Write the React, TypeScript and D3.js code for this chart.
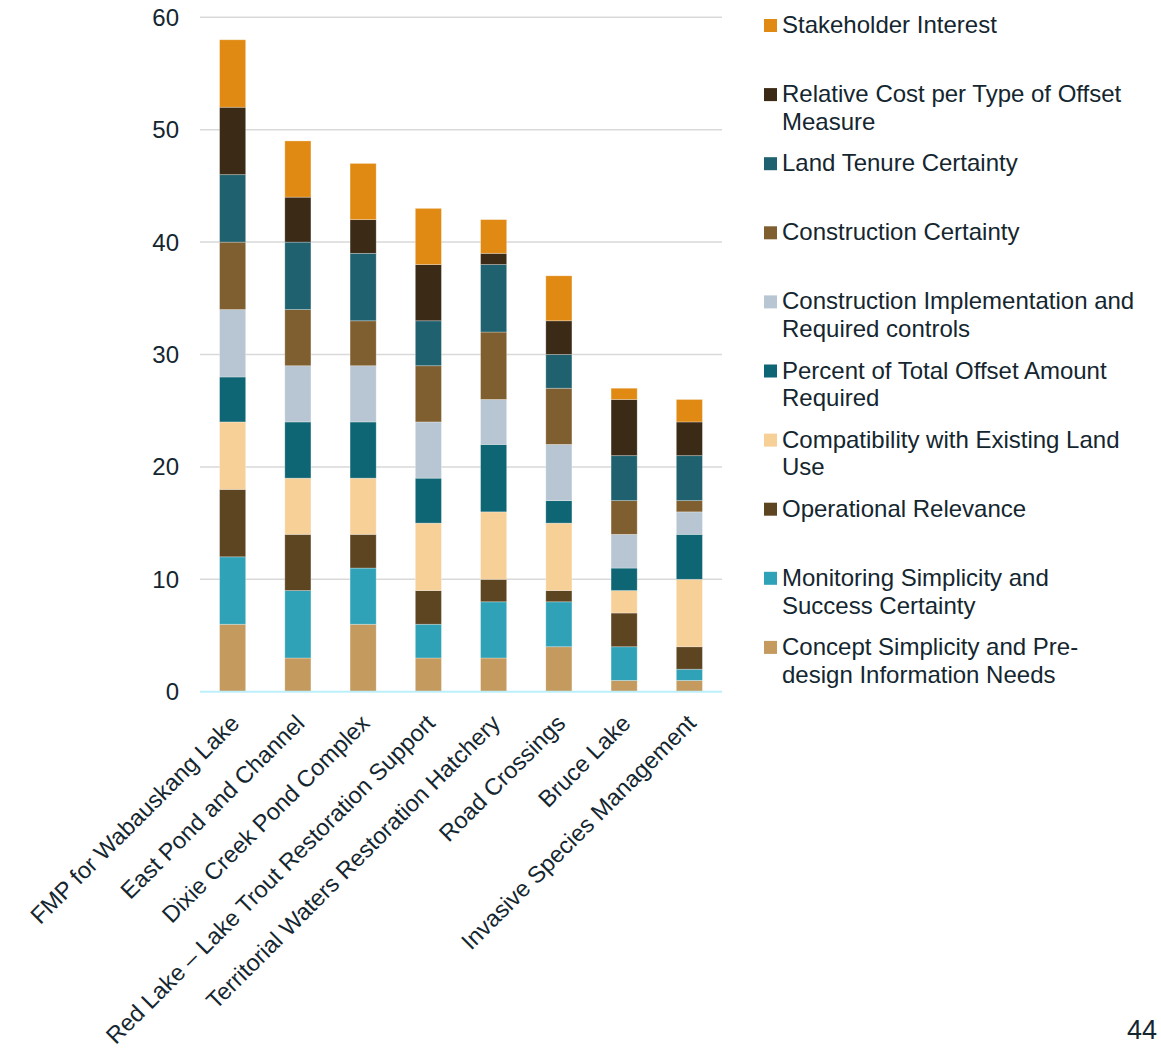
import React, { useEffect, useRef } from 'react';
import * as d3 from 'd3';

const projects = [
  'FMP for Wabauskang Lake',
  'East Pond and Channel',
  'Dixie Creek Pond Complex',
  'Red Lake – Lake Trout Restoration Support',
  'Territorial Waters Restoration Hatchery',
  'Road Crossings',
  'Bruce Lake',
  'Invasive Species Management',
];

// stack order, bottom to top
const criteria = [
  'Concept Simplicity and Pre-design Information Needs',
  'Monitoring Simplicity and Success Certainty',
  'Operational Relevance',
  'Compatibility with Existing Land Use',
  'Percent of Total Offset Amount Required',
  'Construction Implementation and Required controls',
  'Construction Certainty',
  'Land Tenure Certainty',
  'Relative Cost per Type of Offset Measure',
  'Stakeholder Interest',
];

// legend lines as they wrap in the original
const legendLines = [
  ['Concept Simplicity and Pre-', 'design Information Needs'],
  ['Monitoring Simplicity and', 'Success Certainty'],
  ['Operational Relevance'],
  ['Compatibility with Existing Land', 'Use'],
  ['Percent of Total Offset Amount', 'Required'],
  ['Construction Implementation and', 'Required controls'],
  ['Construction Certainty'],
  ['Land Tenure Certainty'],
  ['Relative Cost per Type of Offset', 'Measure'],
  ['Stakeholder Interest'],
];

const colors = [
  '#C49A5E',
  '#30A2B7',
  '#5D4522',
  '#F7D098',
  '#0E6574',
  '#B7C6D2',
  '#7F5E2F',
  '#1F616E',
  '#3A2A16',
  '#E08A13',
];

// one row per criterion, one value per project
const concept = [6, 3, 6, 3, 3, 4, 1, 1];
const monitoring = [6, 6, 5, 3, 5, 4, 3, 1];
const operational = [6, 5, 3, 3, 2, 1, 3, 2];
const compatibility = [6, 5, 5, 6, 6, 6, 2, 6];
const percentOffset = [4, 5, 5, 4, 6, 2, 2, 4];
const constructionImpl = [6, 5, 5, 5, 4, 5, 3, 2];
const constructionCert = [6, 5, 4, 5, 6, 5, 3, 1];
const landTenure = [6, 6, 6, 4, 6, 3, 4, 4];
const relativeCost = [6, 4, 3, 5, 1, 3, 5, 3];
const stakeholder = [6, 5, 5, 5, 3, 4, 1, 2];

const seriesValues = [
  concept,
  monitoring,
  operational,
  compatibility,
  percentOffset,
  constructionImpl,
  constructionCert,
  landTenure,
  relativeCost,
  stakeholder,
];

const yTicks = [0, 10, 20, 30, 40, 50, 60];

const W = 1161;
const H = 1052;
const textColor = '#14262F';
const font = 'Arial, "Liberation Sans", sans-serif';

export default function App() {
  const svgRef = useRef<SVGSVGElement | null>(null);

  useEffect(() => {
    if (!svgRef.current) return;
    const svg = d3.select(svgRef.current);
    svg.selectAll('*').remove();

    const margin = { top: 17.3, left: 200, right: 722, bottom: 691.7 };

    const x = d3.scaleBand<string>().domain(projects).range([margin.left, margin.right]).paddingInner(0.6).paddingOuter(0.3);
    const y = d3.scaleLinear().domain([0, 60]).range([margin.bottom, margin.top]);

    const table = projects.map((p, i) => {
      const row: any = { project: p };
      criteria.forEach((c, k) => (row[c] = seriesValues[k][i]));
      return row;
    });
    const stacked = d3.stack<any>().keys(criteria)(table);

    // grid
    svg
      .append('g')
      .selectAll('line')
      .data(yTicks.filter((t) => t > 0))
      .enter()
      .append('line')
      .attr('x1', margin.left)
      .attr('x2', margin.right)
      .attr('y1', (d) => y(d))
      .attr('y2', (d) => y(d))
      .attr('stroke', '#D9D9D9')
      .attr('stroke-width', 1.5);

    // y tick labels
    svg
      .append('g')
      .selectAll('text')
      .data(yTicks)
      .enter()
      .append('text')
      .attr('x', 179)
      .attr('y', (d) => y(d))
      .attr('dy', '0.35em')
      .attr('text-anchor', 'end')
      .attr('font-family', font)
      .attr('font-size', 24)
      .attr('fill', textColor)
      .text((d) => d);

    // bars
    stacked.forEach((layer, k) => {
      svg
        .append('g')
        .selectAll('rect')
        .data(layer)
        .enter()
        .append('rect')
        .attr('x', (d) => x(d.data.project)!)
        .attr('width', x.bandwidth())
        .attr('y', (d) => y(d[1]))
        .attr('height', (d) => y(d[0]) - y(d[1]))
        .attr('fill', colors[k])
        .attr('stroke', '#ffffff')
        .attr('stroke-opacity', 0.35)
        .attr('stroke-width', 0.8);
    });

    // baseline
    svg
      .append('line')
      .attr('x1', margin.left)
      .attr('x2', margin.right)
      .attr('y1', y(0))
      .attr('y2', y(0))
      .attr('stroke', '#BDEFFB')
      .attr('stroke-width', 2);

    // x labels
    svg
      .append('g')
      .selectAll('text')
      .data(projects)
      .enter()
      .append('text')
      .attr('transform', (d) => `translate(${x(d)! + x.bandwidth() / 2 + 8}, ${y(0) + 33}) rotate(-45)`)
      .attr('text-anchor', 'end')
      .attr('font-family', font)
      .attr('font-size', 23.5)
      .attr('fill', textColor)
      .text((d) => d);

    // legend, top entry is the last stack layer
    const legend = svg.append('g');
    const order = d3.range(criteria.length).reverse();
    order.forEach((k, i) => {
      const cy = 25.5 + i * 69.1;
      legend
        .append('rect')
        .attr('x', 764)
        .attr('y', cy - 6.5)
        .attr('width', 13)
        .attr('height', 13)
        .attr('fill', colors[k]);
      const t = legend
        .append('text')
        .attr('font-family', font)
        .attr('font-size', 24)
        .attr('fill', textColor);
      legendLines[k].forEach((line, j) => {
        t.append('tspan')
          .attr('x', 782)
          .attr('y', cy + 7.5 + j * 27.8)
          .text(line);
      });
    });

    // page number
    svg
      .append('text')
      .attr('x', 1157)
      .attr('y', 1039)
      .attr('text-anchor', 'end')
      .attr('font-family', font)
      .attr('font-size', 27)
      .attr('fill', textColor)
      .text('44');
  }, []);

  return (
    <div style={{ position: 'absolute', left: 0, top: 0 }}>
      <svg width={W} height={H} ref={svgRef} style={{ display: 'block', background: '#fff' }}></svg>
    </div>
  );
}
